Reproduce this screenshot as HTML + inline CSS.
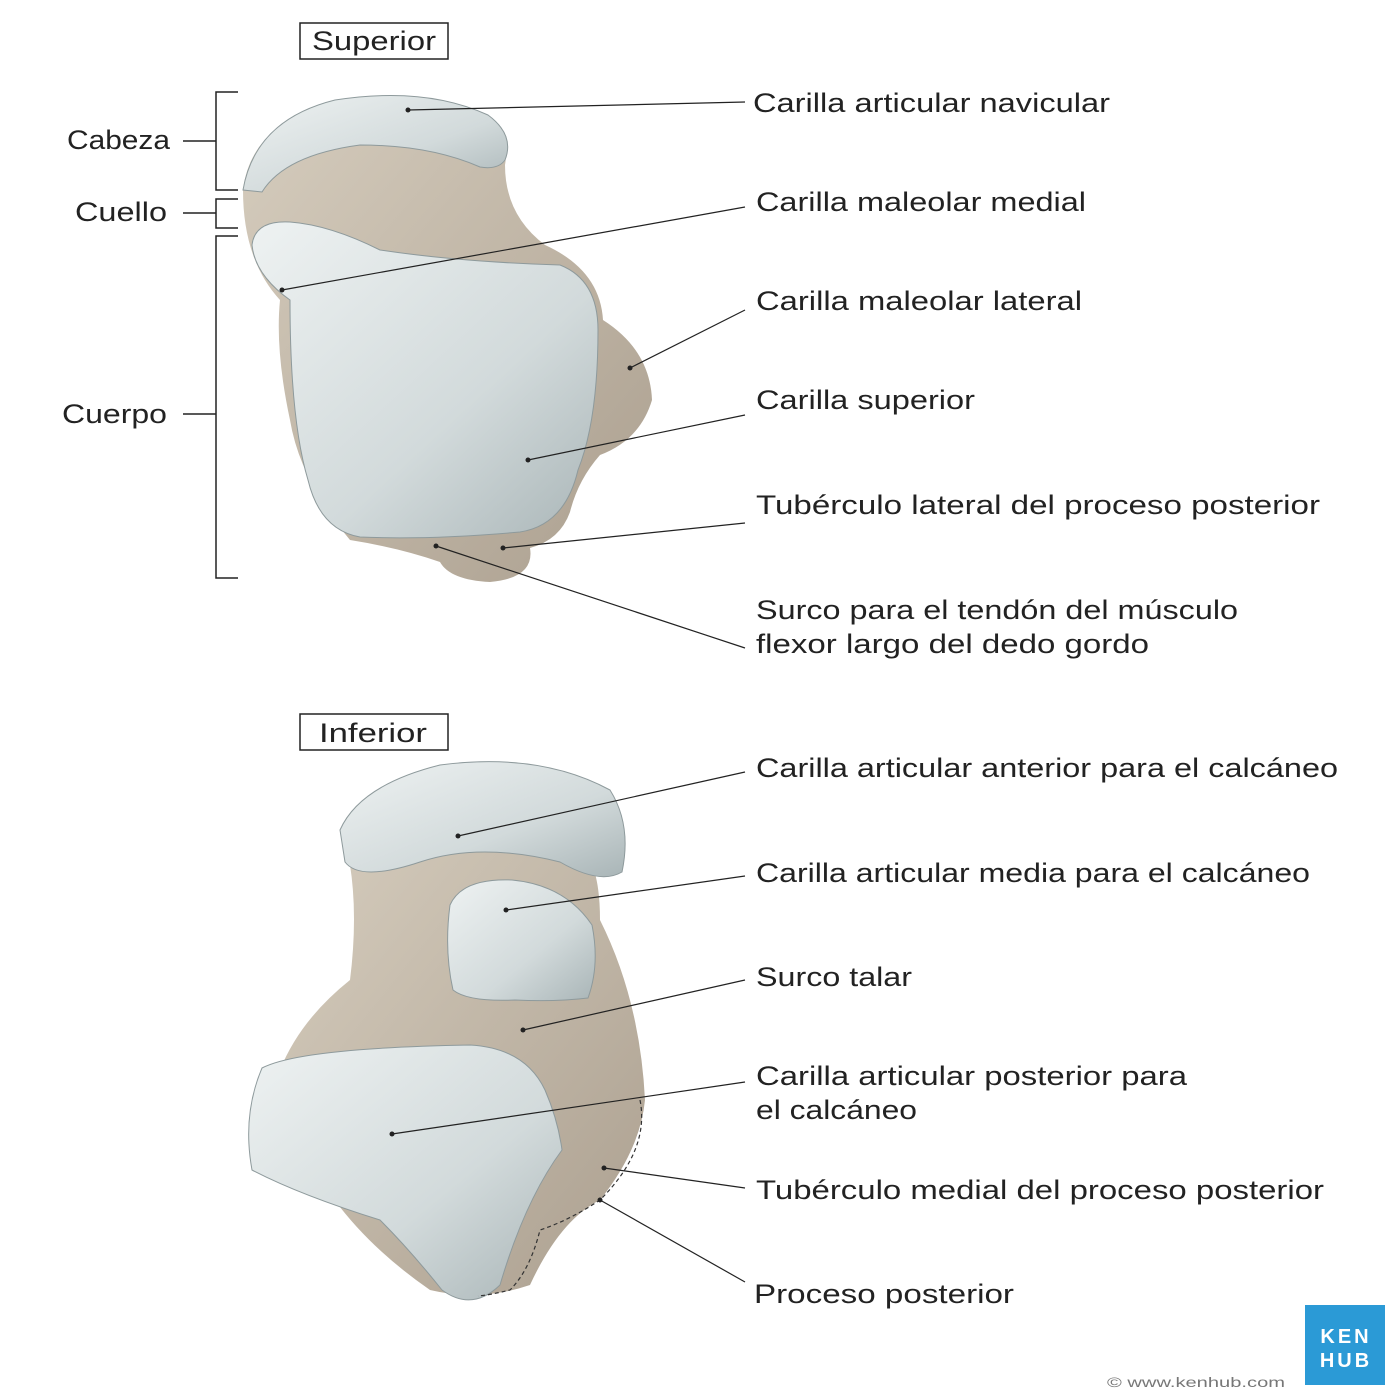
<!DOCTYPE html>
<html><head><meta charset="utf-8"><style>
html,body{margin:0;padding:0;background:#fff;}
svg{display:block}
text{font-family:"Liberation Sans",sans-serif;fill:#222;font-size:27px}
</style></head><body>
<svg width="1400" height="1400" viewBox="0 0 1400 1400" xmlns="http://www.w3.org/2000/svg">
<defs>
<linearGradient id="bone" x1="0" y1="0" x2="1" y2="1"><stop offset="0" stop-color="#d6cdbe"/><stop offset="1" stop-color="#ab9f8f"/></linearGradient>
<linearGradient id="cart" x1="0" y1="0" x2="1" y2="1"><stop offset="0" stop-color="#eef2f2"/><stop offset="0.6" stop-color="#d2dadb"/><stop offset="1" stop-color="#a9b5b7"/></linearGradient>
</defs>
<rect width="1400" height="1400" fill="#fff"/>

<!-- top bone -->
<path d="M243,190 Q250,130 320,105 Q420,85 480,120 Q510,140 505,165 Q505,215 545,245 Q600,270 603,320 Q650,350 652,400 Q640,440 600,455 Q578,480 570,512 Q560,540 530,548 Q535,578 490,582 Q450,580 440,562 Q400,548 350,540 Q300,480 290,420 Q275,350 280,300 Q243,260 243,190 Z" fill="url(#bone)"/>
<path d="M243,190 Q255,120 335,100 Q425,86 488,115 Q515,135 505,160 Q498,170 480,167 Q430,145 360,145 Q285,155 262,192 Z" fill="url(#cart)" stroke="#8e9a9c" stroke-width="1"/>
<path d="M252,245 Q255,220 290,222 Q330,225 380,250 Q460,262 560,265 Q598,280 598,330 Q598,420 578,470 Q565,525 520,532 Q430,540 360,537 Q320,530 308,480 Q290,420 290,300 Q255,275 252,245 Z" fill="url(#cart)" stroke="#8e9a9c" stroke-width="1"/>

<!-- bottom bone -->
<path d="M345,840 Q360,900 350,980 Q300,1020 280,1070 Q300,1200 430,1290 Q480,1302 530,1285 Q560,1220 600,1200 Q640,1150 645,1100 Q640,1000 600,920 Q600,880 590,860 Z" fill="url(#bone)"/>
<path d="M340,830 Q360,785 440,765 Q540,752 610,790 Q632,825 622,872 Q600,885 560,862 Q480,842 420,862 Q360,882 345,862 Z" fill="url(#cart)" stroke="#8e9a9c" stroke-width="1"/>
<path d="M450,905 Q462,878 512,880 Q565,885 592,925 Q600,965 588,998 Q555,1002 515,1000 Q468,1002 453,990 Q444,950 450,905 Z" fill="url(#cart)" stroke="#8e9a9c" stroke-width="1"/>
<path d="M262,1068 Q300,1048 470,1045 Q525,1048 545,1090 Q558,1120 562,1150 Q525,1200 500,1285 Q472,1312 442,1290 Q410,1250 380,1220 Q300,1195 252,1170 Q242,1115 262,1068 Z" fill="url(#cart)" stroke="#8e9a9c" stroke-width="1"/>
<path d="M640,1100 Q650,1150 600,1200 Q570,1220 540,1230 Q530,1270 510,1290 Q490,1295 478,1296" fill="none" stroke="#333" stroke-width="1.2" stroke-dasharray="4,3"/>

<!-- boxes -->
<rect x="300" y="23" width="148" height="36" fill="#fff" stroke="#222" stroke-width="1.5"/>
<text x="312" y="50" textLength="124" lengthAdjust="spacingAndGlyphs">Superior</text>
<rect x="300" y="714" width="148" height="36" fill="#fff" stroke="#222" stroke-width="1.5"/>
<text x="319" y="742" textLength="108" lengthAdjust="spacingAndGlyphs">Inferior</text>

<!-- brackets -->
<g stroke="#222" stroke-width="1.5" fill="none">
<path d="M238,92 H216 V190 H238"/><line x1="183" y1="141" x2="216" y2="141"/>
<path d="M238,199 H216 V228 H238"/><line x1="183" y1="213" x2="216" y2="213"/>
<path d="M238,236 H216 V578 H238"/><line x1="183" y1="414" x2="216" y2="414"/>
</g>
<text x="67" y="149" textLength="103" lengthAdjust="spacingAndGlyphs">Cabeza</text>
<text x="75" y="221" textLength="92" lengthAdjust="spacingAndGlyphs">Cuello</text>
<text x="62" y="423" textLength="105" lengthAdjust="spacingAndGlyphs">Cuerpo</text>

<!-- leader lines -->
<g stroke="#222" stroke-width="1.2">
<line x1="408" y1="110" x2="745" y2="102"/>
<line x1="282" y1="290" x2="745" y2="207"/>
<line x1="630" y1="368" x2="745" y2="310"/>
<line x1="528" y1="460" x2="745" y2="415"/>
<line x1="503" y1="548" x2="745" y2="523"/>
<line x1="436" y1="546" x2="745" y2="648"/>
<line x1="458" y1="836" x2="745" y2="772"/>
<line x1="506" y1="910" x2="745" y2="876"/>
<line x1="523" y1="1030" x2="745" y2="980"/>
<line x1="392" y1="1134" x2="745" y2="1082"/>
<line x1="604" y1="1168" x2="745" y2="1188"/>
<line x1="600" y1="1200" x2="745" y2="1282"/>
</g>
<g fill="#222">
<circle cx="408" cy="110" r="2.5"/><circle cx="282" cy="290" r="2.5"/><circle cx="630" cy="368" r="2.5"/>
<circle cx="528" cy="460" r="2.5"/><circle cx="503" cy="548" r="2.5"/><circle cx="436" cy="546" r="2.5"/>
<circle cx="458" cy="836" r="2.5"/><circle cx="506" cy="910" r="2.5"/><circle cx="523" cy="1030" r="2.5"/>
<circle cx="392" cy="1134" r="2.5"/><circle cx="604" cy="1168" r="2.5"/><circle cx="600" cy="1200" r="2.5"/>
</g>

<g>
<text x="753" y="112" textLength="357" lengthAdjust="spacingAndGlyphs">Carilla articular navicular</text>
<text x="756" y="211" textLength="330" lengthAdjust="spacingAndGlyphs">Carilla maleolar medial</text>
<text x="756" y="310" textLength="326" lengthAdjust="spacingAndGlyphs">Carilla maleolar lateral</text>
<text x="756" y="409" textLength="219" lengthAdjust="spacingAndGlyphs">Carilla superior</text>
<text x="756" y="514" textLength="564" lengthAdjust="spacingAndGlyphs">Tubérculo lateral del proceso posterior</text>
<text x="756" y="619" textLength="482" lengthAdjust="spacingAndGlyphs">Surco para el tendón del músculo</text>
<text x="756" y="653" textLength="393" lengthAdjust="spacingAndGlyphs">flexor largo del dedo gordo</text>
<text x="756" y="777" textLength="582" lengthAdjust="spacingAndGlyphs">Carilla articular anterior para el calcáneo</text>
<text x="756" y="882" textLength="554" lengthAdjust="spacingAndGlyphs">Carilla articular media para el calcáneo</text>
<text x="756" y="986" textLength="156" lengthAdjust="spacingAndGlyphs">Surco talar</text>
<text x="756" y="1085" textLength="431" lengthAdjust="spacingAndGlyphs">Carilla articular posterior para</text>
<text x="756" y="1119" textLength="161" lengthAdjust="spacingAndGlyphs">el calcáneo</text>
<text x="756" y="1199" textLength="568" lengthAdjust="spacingAndGlyphs">Tubérculo medial del proceso posterior</text>
<text x="754" y="1303" textLength="260" lengthAdjust="spacingAndGlyphs">Proceso posterior</text>
</g>

<!-- logo -->
<rect x="1305" y="1305" width="80" height="80" fill="#2b9ad6"/>
<text x="1346" y="1343" text-anchor="middle" style="fill:#fff;font-size:20px;font-weight:bold;letter-spacing:3px">KEN</text>
<text x="1346" y="1367" text-anchor="middle" style="fill:#fff;font-size:20px;font-weight:bold;letter-spacing:3px">HUB</text>
<text x="1107" y="1387" textLength="178" lengthAdjust="spacingAndGlyphs" style="fill:#777;font-size:14px">© www.kenhub.com</text>
</svg>
</body></html>
